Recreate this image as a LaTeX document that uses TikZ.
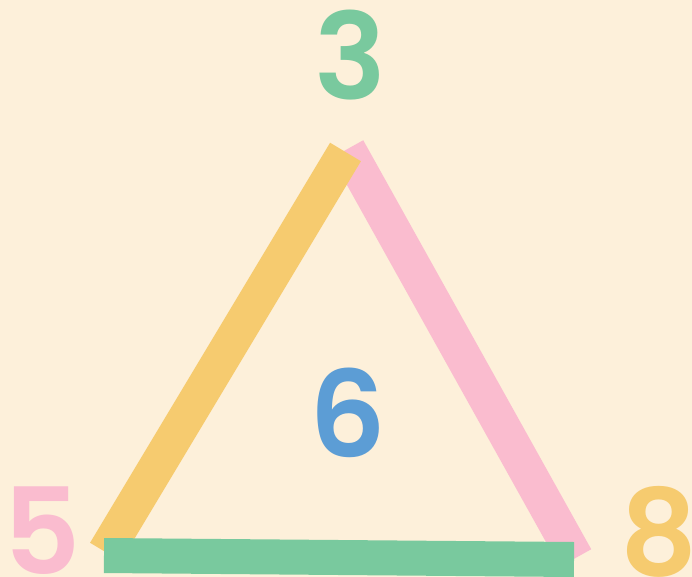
\documentclass[tikz,border=0pt]{standalone}
\usepackage{fontspec}
\newfontfamily\digitfont{Poppins}[UprightFont={* SemiBold}]
\definecolor{bgcream}{RGB}{253,240,218}
\definecolor{barpink}{RGB}{250,188,207}
\definecolor{baryellow}{RGB}{246,203,111}
\definecolor{bargreen}{RGB}{121,201,158}
\definecolor{digitblue}{RGB}{92,157,213}
\usetikzlibrary{positioning}

\begin{document}
\begin{tikzpicture}[
  x=1pt, y=-1pt,
  digit/.style={inner sep=0pt, font=\fontsize{120}{120}\selectfont\digitfont},
  bar/.style={line width=36pt, line cap=butt},
]

% Background
\useasboundingbox[fill=bgcream] (0,0) rectangle (692,577);

% Numbers
\node[digit, bargreen]   (top)   at (350, 55)  {3};
\node[digit, digitblue]  (mid)   at (348, 413) {6};
\node[digit, barpink]    (left)  at (42, 531)  {5};
\node[digit, baryellow]  (right) at (659, 532) {8};

% Bar ends
\coordinate (pinktop)  at (347.5,149);
\coordinate (pinkbot)  at (575.5,558);
\coordinate (yeltop)   at (345.5,152);
\coordinate (yelbot)   at (105.5,552);
\coordinate (grnleft)  at (104,555.5);
\coordinate (grnright) at (574,559.5);

% Bars (pink under yellow, green on top)
\draw[bar, barpink]   (pinktop) -- (pinkbot);
\draw[bar, baryellow] (yelbot) -- (yeltop);
\draw[bar, bargreen, line width=35pt] (grnleft) -- (grnright);

\end{tikzpicture}
\end{document}
